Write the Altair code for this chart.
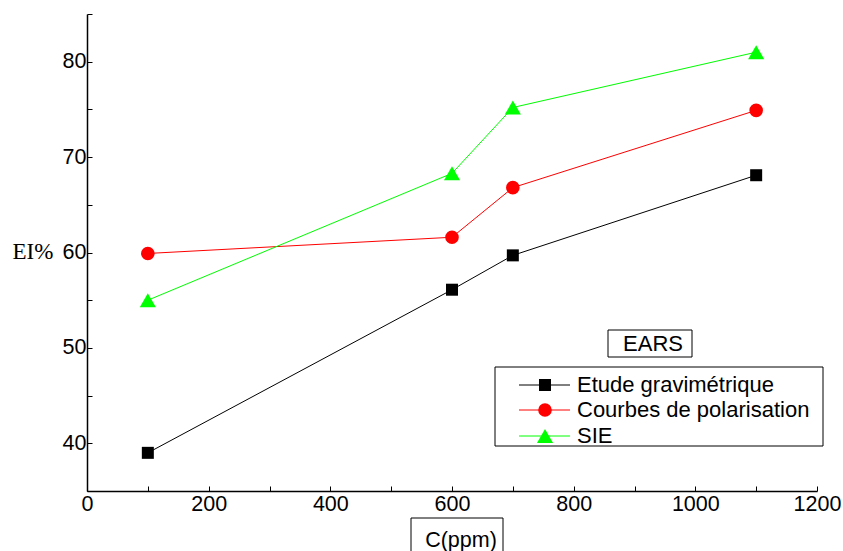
import altair as alt
import pandas as pd

conc = [100, 600, 700, 1100]
grav = [39.0, 56.1, 59.7, 68.1]
polar = [59.9, 61.6, 66.8, 74.9]
sie = [55.0, 68.3, 75.2, 81.0]
series = ["Etude gravimétrique", "Courbes de polarisation", "SIE"]
colors = ["#000000", "#ff0000", "#00ff00"]
shapes = ["square", "circle", "triangle-up"]
marker_sizes = [144, 185, 260]
x_ticks = list(range(0, 1201, 100))
y_ticks = [35, 40, 45, 50, 55, 60, 65, 70, 75, 80, 85]

rows = []
for name, vals in zip(series, [grav, polar, sie]):
    for c, v in zip(conc, vals):
        rows.append({"C": c, "EI": v, "series": name})
df = pd.DataFrame(rows)

W, H = 730, 477

xenc = alt.X("C:Q", scale=alt.Scale(domain=[0, 1200], nice=False, zero=False),
             axis=alt.Axis(values=x_ticks, format="d", title=None,
                           labelExpr="datum.value % 200 == 0 ? datum.label : ''",
                           tickSize={"expr": "-5"}, labelPadding=7,
                           labelFont="Liberation Sans", labelFontSize=21.5,
                           labelColor="black", domainColor="black", domainWidth=1.5,
                           tickColor="black", tickWidth=1, grid=False, labelFlush=False))
yenc = alt.Y("EI:Q", scale=alt.Scale(domain=[35, 85], nice=False, zero=False),
             axis=alt.Axis(values=y_ticks, title="EI%",
                           labelExpr="datum.value % 10 == 0 ? datum.label : ''",
                           tickSize={"expr": "-5"}, labelPadding=6,
                           labelFont="Liberation Sans", labelFontSize=21.5,
                           labelColor="black", domainColor="black", domainWidth=1.5,
                           tickColor="black", tickWidth=1, grid=False,
                           titleAngle=0, titleFont="Liberation Serif", titleFontSize=23,
                           titleFontWeight="normal", titleColor="black",
                           titleAlign="left", titleBaseline="middle",
                           titleX=-75, titleY=237))

cscale = alt.Scale(domain=series, range=colors)

lines = alt.Chart(df).mark_line(strokeWidth=1).encode(
    x=xenc, y=yenc,
    color=alt.Color("series:N", scale=cscale, legend=None),
)
point_layers = []
for name, col, shp, sz in zip(series, colors, shapes, marker_sizes):
    point_layers.append(
        alt.Chart(df).transform_filter(alt.datum.series == name)
        .mark_point(filled=True, opacity=1, shape=shp, size=sz, color=col)
        .encode(x="C:Q", y="EI:Q")
    )

one = pd.DataFrame({"k": [0]})

# legend (decoration)
legend_layers = [
    alt.Chart(one).mark_rect(fill="white", stroke="black", strokeWidth=1).encode(
        x=alt.value(408), x2=alt.value(736), y=alt.value(353), y2=alt.value(432))
]
row_y = [371, 396, 422]
for name, col, shp, sz, yy in zip(series, colors, shapes, marker_sizes, row_y):
    legend_layers.append(alt.Chart(one).mark_rule(color=col, strokeWidth=1).encode(
        x=alt.value(432), x2=alt.value(483), y=alt.value(yy)))
    legend_layers.append(alt.Chart(one).mark_point(filled=True, opacity=1, shape=shp, size=sz,
                                                   color=col).encode(
        x=alt.value(458), y=alt.value(yy)))
    legend_layers.append(alt.Chart(one).mark_text(text=name, font="Liberation Sans", fontSize=22,
                                                  align="left", baseline="middle",
                                                  color="black").encode(
        x=alt.value(490), y=alt.value(yy)))

ears_box = alt.Chart(one).mark_rect(fill="white", stroke="black", strokeWidth=1).encode(
    x=alt.value(521), x2=alt.value(605), y=alt.value(316), y2=alt.value(343))
ears_text = alt.Chart(one).mark_text(text="EARS", font="Liberation Sans", fontSize=22,
                                      color="black").encode(x=alt.value(566), y=alt.value(330))
xt_box = alt.Chart(one).mark_rect(fill="white", stroke="black", strokeWidth=1).encode(
    x=alt.value(324), x2=alt.value(416), y=alt.value(504), y2=alt.value(545))
xt_text = alt.Chart(one).mark_text(text="C(ppm)", font="Liberation Sans", fontSize=21.5,
                                    color="black").encode(x=alt.value(374), y=alt.value(527))

chart = alt.layer(lines, *point_layers, *legend_layers, ears_box, ears_text, xt_box, xt_text).properties(
    width=W, height=H,
    autosize=alt.AutoSizeParams(type="none"),
    padding={"left": 87, "top": 14, "right": 26, "bottom": 60},
    background="white",
).configure_view(stroke=None)

chart.save("out.html", embed_options={"renderer": "svg", "actions": False})
